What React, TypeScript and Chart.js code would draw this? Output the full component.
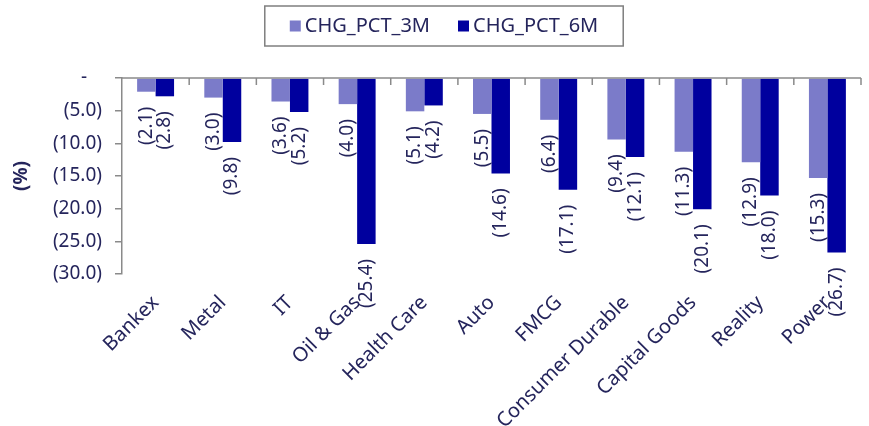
import { useEffect, useRef } from 'react';
import { Chart, registerables } from 'chart.js';

Chart.register(...registerables);

const categories = [
  'Bankex',
  'Metal',
  'IT',
  'Oil & Gas',
  'Health Care',
  'Auto',
  'FMCG',
  'Consumer Durable',
  'Capital Goods',
  'Reality',
  'Power',
];
const chgPct3m = [-2.1, -3.0, -3.6, -4.0, -5.1, -5.5, -6.4, -9.4, -11.3, -12.9, -15.3];
const chgPct6m = [-2.8, -9.8, -5.2, -25.4, -4.2, -14.6, -17.1, -12.1, -20.1, -18.0, -26.7];
const seriesNames = ['CHG_PCT_3M', 'CHG_PCT_6M'];
const seriesColors = ['#7b7bc9', '#00009e'];
const yTicks = [0, -5, -10, -15, -20, -25, -30];

const FONT = "'Noto Sans', sans-serif";
const TEXT = '#25255c';
const AXIS = '#8a8a8a';

// accounting style: negatives in brackets, zero as a dash
function fmt(v: number) {
  return v === 0 ? '-   ' : `(${Math.abs(v).toFixed(1)})`;
}

const barLabels = {
  id: 'barLabels',
  afterDatasetsDraw(chart: any) {
    const { ctx } = chart;
    ctx.save();
    ctx.font = `19px ${FONT}`;
    ctx.fillStyle = TEXT;
    ctx.textAlign = 'right';
    ctx.textBaseline = 'middle';
    chart.data.datasets.forEach((ds: any, i: number) => {
      chart.getDatasetMeta(i).data.forEach((bar: any, j: number) => {
        const { x, y } = bar.getProps(['x', 'y'], true);
        ctx.save();
        ctx.translate(x, y + 15);
        ctx.rotate(-Math.PI / 2);
        ctx.fillText(fmt(ds.data[j]), 0, 0);
        ctx.restore();
      });
    });
    ctx.restore();
  },
};

// x axis line sits at zero (top of the plot) with ticks pointing down
const zeroAxis = {
  id: 'zeroAxis',
  afterDatasetsDraw(chart: any) {
    const { ctx, chartArea, scales } = chart;
    const y0 = scales.y.getPixelForValue(0);
    const n = chart.data.labels.length;
    const step = (chartArea.right - chartArea.left) / n;
    ctx.save();
    ctx.strokeStyle = AXIS;
    ctx.lineWidth = 1.5;
    ctx.beginPath();
    ctx.moveTo(chartArea.left, y0);
    ctx.lineTo(chartArea.right, y0);
    for (let i = 1; i <= n; i++) {
      const x = chartArea.left + i * step;
      ctx.moveTo(x, y0);
      ctx.lineTo(x, y0 + 7);
    }
    ctx.stroke();
    ctx.restore();
  },
};

// boxed legend above the plot
const boxLegend = {
  id: 'boxLegend',
  afterDraw(chart: any) {
    const { ctx } = chart;
    const box = 11;
    const gap = 4;
    const itemGap = 28;
    ctx.save();
    ctx.font = `20px ${FONT}`;
    const widths = chart.data.datasets.map((ds: any) => ctx.measureText(ds.label).width);
    const total = widths.reduce((a: number, w: number) => a + box + gap + w, 0) + itemGap * (widths.length - 1);
    const cx = 444;
    const top = 6;
    const h = 40;
    const bw = total + 50;
    ctx.strokeStyle = '#7f7f7f';
    ctx.lineWidth = 1.5;
    ctx.strokeRect(cx - bw / 2, top, bw, h);
    let x = cx - total / 2;
    const midY = top + h / 2;
    ctx.textAlign = 'left';
    ctx.textBaseline = 'middle';
    chart.data.datasets.forEach((ds: any, i: number) => {
      ctx.fillStyle = ds.backgroundColor;
      ctx.fillRect(x, midY - box / 2, box, box);
      x += box + gap;
      ctx.fillStyle = TEXT;
      ctx.fillText(ds.label, x, midY);
      x += widths[i] + itemGap;
    });
    ctx.restore();
  },
};

export default function App() {
  const canvasRef = useRef<HTMLCanvasElement>(null);
  const chartRef = useRef<Chart | null>(null);

  useEffect(() => {
    document.body.style.margin = '0';
    if (!canvasRef.current) return;
    const ctx = canvasRef.current.getContext('2d');
    if (!ctx) return;
    if (chartRef.current) chartRef.current.destroy();

    chartRef.current = new Chart(ctx, {
      type: 'bar',
      data: {
        labels: categories,
        datasets: [
          {
            label: seriesNames[0],
            data: chgPct3m,
            backgroundColor: seriesColors[0],
            categoryPercentage: 0.55,
            barPercentage: 1,
          },
          {
            label: seriesNames[1],
            data: chgPct6m,
            backgroundColor: seriesColors[1],
            categoryPercentage: 0.55,
            barPercentage: 1,
          },
        ],
      },
      options: {
        animation: false,
        responsive: true,
        maintainAspectRatio: false,
        layout: { padding: { top: 78, right: 8, left: 0, bottom: 0 } },
        plugins: {
          legend: { display: false },
          tooltip: { enabled: false },
        },
        scales: {
          x: {
            grid: { display: false },
            border: { display: false },
            ticks: {
              autoSkip: false,
              maxRotation: 45,
              minRotation: 45,
              color: TEXT,
              font: { family: FONT, size: 20 },
              padding: 9,
            },
            afterFit: (s: any) => {
              s.height = 152;
            },
          },
          y: {
            min: -30,
            max: 0,
            afterBuildTicks: (s: any) => {
              s.ticks = yTicks.map((v) => ({ value: v }));
            },
            grid: {
              drawOnChartArea: false,
              drawTicks: true,
              tickLength: 7,
              color: AXIS,
              lineWidth: 1.5,
            },
            border: { display: true, color: AXIS, width: 1.5 },
            ticks: {
              color: TEXT,
              font: { family: FONT, size: 19 },
              padding: 13,
              callback: (v: any) => fmt(Number(v)),
            },
            title: {
              display: true,
              text: '(%)',
              color: TEXT,
              font: { family: FONT, size: 19, weight: 'bold' },
              padding: { top: 10, bottom: 0 },
            },
            afterFit: (s: any) => {
              s.width = 122;
            },
          },
        },
      },
      plugins: [zeroAxis, barLabels, boxLegend],
    });

    return () => {
      if (chartRef.current) {
        chartRef.current.destroy();
        chartRef.current = null;
      }
    };
  }, []);

  return (
    <div style={{ position: 'relative', width: '869px', height: '426px' }}>
      <canvas ref={canvasRef}></canvas>
    </div>
  );
}
